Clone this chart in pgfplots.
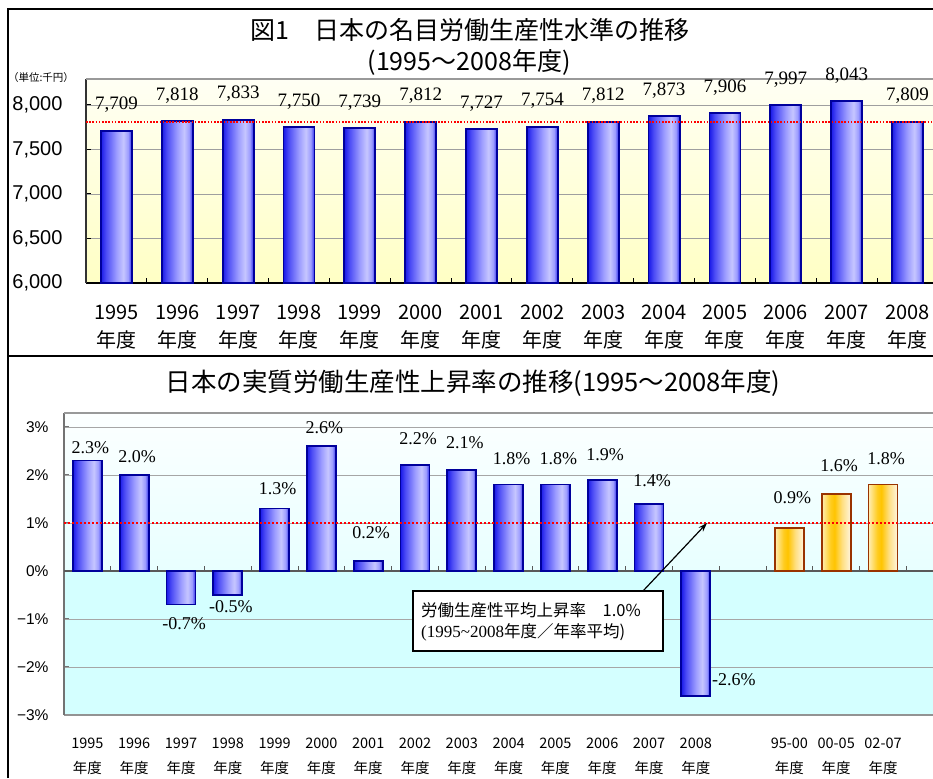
\documentclass[border=0pt]{standalone}
\usepackage{fontspec}
\usepackage{pgfplots}
\usepackage{pgfplotstable}
\pgfplotsset{compat=1.18}
\usetikzlibrary{arrows.meta}
\setmainfont{Liberation Sans}
\newfontfamily\jp{Noto Sans CJK JP}
\newfontfamily\tms{Liberation Serif}

\definecolor{bb1}{HTML}{1A1AE8}
\definecolor{bb2}{HTML}{4B4BF5}
\definecolor{bb3}{HTML}{9C9CFF}
\definecolor{bb4}{HTML}{C6C6FF}
\definecolor{bb5}{HTML}{2A2AEC}
\definecolor{bborder}{HTML}{00009C}
\definecolor{or1}{HTML}{FFEDB5}
\definecolor{or2}{HTML}{FFCC20}
\definecolor{or3}{HTML}{FFC400}
\definecolor{or4}{HTML}{FFDF80}
\definecolor{or5}{HTML}{FFF5E0}
\definecolor{oborder}{HTML}{993300}
\definecolor{cyl}{HTML}{D4FFFF}
\definecolor{cym}{HTML}{E8FFFF}
\definecolor{cyt}{HTML}{FCFFFF}
\definecolor{ylt}{HTML}{FFFFF4}
\definecolor{ylb}{HTML}{FFFFC4}

\pgfdeclarehorizontalshading{barblue}{100bp}{color(0bp)=(bb1); color(25bp)=(bb1); color(33bp)=(bb2); color(50bp)=(bb3); color(61bp)=(bb4); color(69bp)=(bb3); color(75bp)=(bb5); color(100bp)=(bb5)}
\pgfdeclarehorizontalshading{barorange}{100bp}{color(0bp)=(or1); color(25bp)=(or1); color(40bp)=(or2); color(47bp)=(or3); color(60bp)=(or4); color(75bp)=(or5); color(100bp)=(or5)}
\pgfdeclareverticalshading{bgcyan}{100bp}{color(0bp)=(cyl); color(25bp)=(cyl); color(48.8bp)=(cyl); color(48.9bp)=(cym); color(75bp)=(cyt); color(100bp)=(cyt)}

\pgfplotsset{/pgf/number format/assume math mode=true}

\pgfplotstableread{
x y
0 7709
1 7818
2 7833
3 7750
4 7739
5 7812
6 7727
7 7754
8 7812
9 7873
10 7906
11 7997
12 8043
13 7809
}\topdata

\pgfplotstableread{
x y
0 2.3
1 2.0
2 -0.7
3 -0.5
4 1.3
5 2.6
6 0.2
7 2.2
8 2.1
9 1.8
10 1.8
11 1.9
12 1.4
13 -2.6
}\botdata

\pgfplotstableread{
x y
15 0.9
16 1.6
17 1.8
}\avgdata

\pgfplotstableread{
x ly lab
0 2.56 2.3
1 2.375 2.0
2 -1.10 -0.7
3 -0.75 -0.5
4 1.71 1.3
5 2.98 2.6
6 0.79 0.2
7 2.75 2.2
8 2.67 2.1
9 2.33 1.8
10 2.33 1.8
11 2.42 1.9
12 1.875 1.4
13.75 -2.27 -2.6
15 1.52 0.9
16 2.19 1.6
17 2.33 1.8
}\botlabels

\begin{document}
\begin{tikzpicture}[x=1pt,y=1pt]
\path[use as bounding box] (0pt,0pt) rectangle (933pt,778pt);

% frame
\draw[line width=1.5pt] (8pt,0pt) -- (8pt,769pt) -- (945pt,769pt);
\draw[line width=1.5pt] (8pt,422pt) -- (945pt,422pt);

% titles
\node at (470pt,748pt) {\jp\fontsize{25}{28}\selectfont 図1　日本の名目労働生産性水準の推移};
\node at (469pt,716pt) {\jp\fontsize{25}{28}\selectfont (1995〜2008年度)};
\node at (41pt,700pt) {\jp\fontsize{10.5}{12}\selectfont （単位:千円）};
\node at (473pt,395pt) {\jp\fontsize{25.5}{28}\selectfont 日本の実質労働生産性上昇率の推移(1995〜2008年度)};

% ---------- top chart ----------
\begin{axis}[
  at={(86pt,495pt)}, anchor=south west,
  scale only axis, width=860pt, height=204pt,
  xmin=-0.5, xmax=13.633, ymin=6000, ymax=8292,
  clip=false,
  axis x line*=bottom, axis y line*=left,
  x axis line style={black, line width=1.6pt},
  y axis line style={black!80, line width=1.2pt},
  axis background/.style={top color=ylt, bottom color=ylb},
  ymajorgrids, grid style={gray!75, line width=0.8pt},
  ytick={6000,6500,7000,7500,8000},
  yticklabels={{6,000},{6,500},{7,000},{7,500},{8,000}},
  yticklabel style={font=\fontsize{20}{24}\selectfont, xshift=-20pt},
  tick align=inside, major tick length=5pt,
  ytick style={black, line width=1pt},
  xtick={0,...,13},
  xticklabels={{1995\\年度},{1996\\年度},{1997\\年度},{1998\\年度},{1999\\年度},{2000\\年度},{2001\\年度},{2002\\年度},{2003\\年度},{2004\\年度},{2005\\年度},{2006\\年度},{2007\\年度},{2008\\年度}},
  xtick style={draw=none},
  xticklabel style={font=\jp\fontsize{20}{28}\selectfont, align=center, yshift=-18pt},
]
\pgfplotsinvokeforeach{0,...,13}{
\addplot[ybar, bar width=0.51, bar shift=0pt, draw=bborder, line width=1.8pt, shading=barblue,
  x filter/.expression={abs(x-#1)<0.01 ? x : nan},
  nodes near coords={\pgfmathprintnumber[1000 sep={,}]{\pgfplotspointmeta}},
  every node near coord/.append style={anchor=center, yshift=26pt, font=\tms\fontsize{19}{21}\selectfont, text=black}]
  table[x=x, y=y] {\topdata};
}
\addplot[red, line width=1.3pt, dash pattern=on 1.6pt off 1.6pt, mark=none] coordinates {(-0.5,7809) (13.633,7809)};
\pgfplotsinvokeforeach{0.5,1.5,...,12.5}{\draw[black, line width=1pt] (axis cs:#1,6000) -- ++(0pt,5pt);}
\draw[gray!80, line width=1.6pt] (rel axis cs:0,1) -- (rel axis cs:1,1);
\end{axis}

% ---------- bottom chart ----------
\begin{axis}[
  at={(64pt,63pt)}, anchor=south west,
  scale only axis, width=890pt, height=302pt,
  xmin=-0.5, xmax=18.517, ymin=-3, ymax=3.29,
  clip=false,
  axis x line*=bottom, axis y line*=left,
  x axis line style={gray!85, line width=2pt},
  y axis line style={gray!90!black, line width=1.5pt},
  axis background/.style={shading=bgcyan},
  ymajorgrids, grid style={gray!70, line width=0.8pt},
  ytick={-3,-2,-1,0,1,2,3},
  yticklabels={−3\%,−2\%,−1\%,0\%,1\%,2\%,3\%},
  yticklabel style={font=\fontsize{15.5}{18}\selectfont, xshift=-12pt},
  tick align=inside, major tick length=5pt,
  ytick style={gray!90!black, line width=1pt},
  xtick={0,...,13,15,16,17},
  xticklabels={{1995\\年度},{1996\\年度},{1997\\年度},{1998\\年度},{1999\\年度},{2000\\年度},{2001\\年度},{2002\\年度},{2003\\年度},{2004\\年度},{2005\\年度},{2006\\年度},{2007\\年度},{2008\\年度},{95-00\\年度},{00-05\\年度},{02-07\\年度}},
  xtick style={draw=none},
  xticklabel style={font=\jp\fontsize{14.5}{25}\selectfont, align=center, yshift=-19pt},
]
\draw[black!65, line width=1.5pt] (axis cs:-0.5,0) -- (axis cs:18.517,0);
\pgfplotsinvokeforeach{0.5,1.5,...,17.5}{\draw[black!65, line width=1pt] (axis cs:#1,0) -- ++(0pt,5pt);}
\pgfplotsinvokeforeach{0,...,13}{
\addplot[ybar, bar width=0.62, bar shift=0pt, draw=bborder, line width=1.8pt, shading=barblue,
  x filter/.expression={abs(x-#1)<0.01 ? x : nan}]
  table[x=x, y=y] {\botdata};
}
\pgfplotsinvokeforeach{15,16,17}{
\addplot[ybar, bar width=0.62, bar shift=0pt, draw=oborder, line width=1.6pt, shading=barorange,
  x filter/.expression={abs(x-#1)<0.01 ? x : nan}]
  table[x=x, y=y] {\avgdata};
}
\addplot[only marks, mark=none, point meta=explicit symbolic,
  nodes near coords={\pgfplotspointmeta\%},
  every node near coord/.style={anchor=center, xshift=3pt, font=\tms\fontsize{18}{20}\selectfont, text=black}]
  table[x=x, y=ly, meta=lab] {\botlabels};
\addplot[red, line width=1.8pt, dash pattern=on 2pt off 2pt, mark=none] coordinates {(-0.5,1.0) (18.517,1.0)};
\draw[gray!80, line width=1.6pt] (rel axis cs:0,1) -- (rel axis cs:1,1);
\end{axis}

% annotation
\draw[-{Stealth[length=9pt,width=6pt]}, line width=1.2pt] (643pt,187pt) -- (707pt,255pt);
\draw[black, line width=1.4pt, fill=white] (413pt,187pt) rectangle (663pt,127pt);
\node[anchor=west, inner sep=0pt] at (421pt,168pt) {\jp\fontsize{16.5}{18}\selectfont 労働生産性平均上昇率　1.0\%};
\node[anchor=west, inner sep=0pt] at (421pt,146pt) {\tms\fontsize{17}{18}\selectfont (1995\textasciitilde 2008\jp\fontsize{16.5}{18}\selectfont 年度／年率平均)};
\end{tikzpicture}
\end{document}
